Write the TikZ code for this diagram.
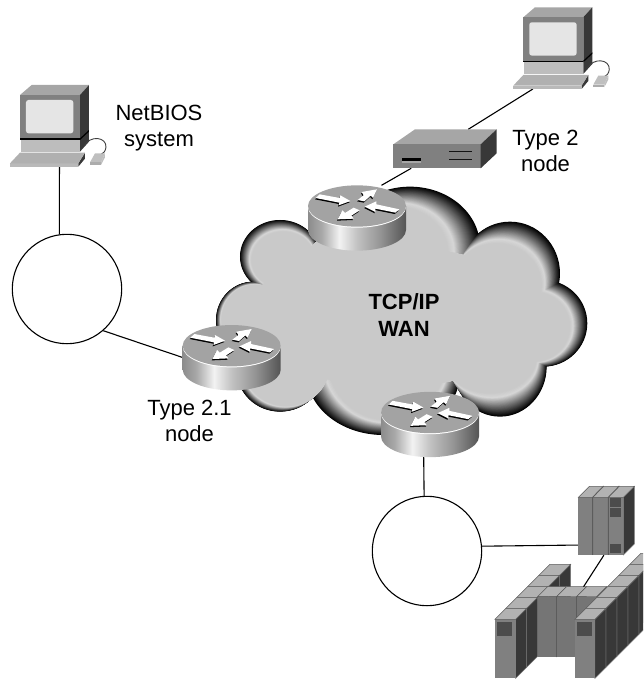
\documentclass[tikz,border=0pt]{standalone}
\usepackage{fontspec}
\setmainfont{Liberation Sans}
\pgfdeclarehorizontalshading{routerbody}{100bp}{rgb(0bp)=(.55,.55,.55);rgb(25bp)=(.55,.55,.55);rgb(32bp)=(.66,.66,.66);rgb(41bp)=(.95,.95,.95);rgb(50bp)=(.76,.76,.76);rgb(62bp)=(.58,.58,.58);rgb(75bp)=(.33,.33,.33);rgb(100bp)=(.33,.33,.33)}
\definecolor{unittop}{gray}{.70}
\definecolor{unitfront}{gray}{.50}
\definecolor{unitmid}{gray}{.46}
\definecolor{unitside}{gray}{.22}
\definecolor{unitpanel}{gray}{.30}
\definecolor{unitedge}{gray}{.36}
\definecolor{sideedge}{gray}{.46}
\tikzset{
  link/.style={draw=black,line width=1.1pt},
  ring/.style={circle,draw=black,line width=1.1pt,fill=white,minimum size=109.4pt,inner sep=0pt},
  hit/.style={rectangle,draw=none,inner sep=0pt,outer sep=0pt},
  lbl/.style={align=center,font=\fontsize{22}{26}\selectfont,inner sep=0pt},
  blbl/.style={align=center,font=\fontsize{22}{26.5}\selectfont\bfseries,inner sep=0pt},
}
\newcommand{\routerArrows}{%
  (-124,-24)--(-112,-35)--(-52,-24)--(-50,-32)--(-20,-15)--(-55,-2)--(-53,-10)--cycle
  (2,-18)--(20,-32)--(14,-42)--(60,-50)--(48,-24)--(41,-31)--(22,-14)--cycle
  (127,10)--(115,20)--(55,8)--(55,18)--(23,2)--(58,-14)--(58,-5)--cycle
  (-10,5)--(-36,21)--(-44,13)--(-58,40)--(-10,38)--(-17,29)--(8,13)--cycle}
\newcommand{\routerIcon}[2]{%
  \begin{scope}[shift={(#1,#2)},x=.3333pt,y=-.3333pt]
    \shade[shading=routerbody] (-147,0) -- (-147,72)
      .. controls (-147,106) and (-81,134) .. (0,134)
      .. controls (81,134) and (147,106) .. (147,72) -- (147,0) -- cycle;
    \fill[white] (0,3) ellipse [x radius=147,y radius=62];
    \fill[gray!72] (0,0) ellipse [x radius=147,y radius=62];
    \fill[black,shift={(-2,4)}] \routerArrows;
    \fill[white] \routerArrows;
  \end{scope}}
\newcommand{\pcIcon}[2]{%
  \begin{scope}[shift={(#1,#2)},x=.3333pt,y=-.3333pt]
    \fill[gray!70] (60,75)--(95,45)--(267,45)--(240,75)--cycle;
    \fill[unitside] (240,75)--(267,45)--(267,215)--(240,245)--cycle;
    \fill[unitfront] (60,75) rectangle (240,205);
    \fill[gray!20,rounded corners=2.5pt] (78,90) rectangle (220,190);
    \fill[black] (60,205) rectangle (240,210);
    \fill[gray!52] (63,210) rectangle (240,246);
    \fill[black] (240,205)--(267,180)--(267,185)--(240,210)--cycle;
    \fill[unitside] (235,290)--(255,266)--(255,248)--(235,280)--cycle;
    \fill[gray!55] (30,280) rectangle (235,290);
    \fill[gray!62] (30,280)--(60,248)--(255,248)--(235,280)--cycle;
    \draw[line width=.9pt,gray!50!black] (252,228) .. controls (270,195) and (320,200) .. (318,232) .. controls (316,245) and (310,250) .. (302,254);
    \fill[gray!50] (270,277)--(285,250)--(315,250)--(303,277)--cycle;
    \fill[gray!65] (270,277) rectangle (303,285);
    \fill[gray!50] (303,277)--(315,250)--(315,262)--(303,285)--cycle;
  \end{scope}}
\newcommand{\srvUnit}[6]{% x y w d h frontcolour
  \fill[unitside,draw=sideedge,line width=.5pt] (#1+#3,#2)--(#1+#3+#4,#2-#4)--(#1+#3+#4,#2-#4+#5)--(#1+#3,#2+#5)--cycle;
  \fill[#6] (#1,#2) rectangle (#1+#3,#2+#5);
  \fill[unittop,draw=unitedge,line width=.5pt] (#1,#2)--(#1+#4,#2-#4)--(#1+#3+#4,#2-#4)--(#1+#3,#2)--cycle;}
\newcommand{\cloudLobes}{690/230/210/180/650/250/155/140,
  990/310/150/155/950/345/135/125,
  1090/460/132/130/1060/470/110/105,
  960/590/140/150/930/560/140/110,
  610/610/230/185/620/560/180/190,
  300/600/130/125/320/590/128/118,
  220/450/112/115/225/450/100/105,
  300/260/120/110/310/270/95/85,
  480/300/110/110/480/300/110/110,
  640/440/440/210/640/440/440/210}
\begin{document}
\begin{tikzpicture}[x=1pt,y=-1pt]
\useasboundingbox (0,0) rectangle (643,679);
% cloud: stacked lobes, black rim to grey interior
\begin{scope}[shift={(180,170)},x=.3333pt,y=-.3333pt]
  \foreach \st in {0,...,34}{
    \pgfmathsetmacro{\tt}{\st/34}
    \pgfmathsetmacro{\gv}{\tt<.8 ? \tt/.8*.84 : .84-(\tt-.8)/.2*.05}
    \definecolor{stepgrey}{gray}{\gv}
    \foreach \ax/\ay/\arx/\ary/\bx/\by/\brx/\bry in \cloudLobes {
      \pgfmathsetmacro{\cx}{\ax+(\bx-\ax)*\tt}
      \pgfmathsetmacro{\cy}{\ay+(\by-\ay)*\tt}
      \pgfmathsetmacro{\rx}{\arx+(\brx-\arx)*\tt}
      \pgfmathsetmacro{\ry}{\ary+(\bry-\ary)*\tt}
      \fill[stepgrey] (\cx,\cy) ellipse [x radius=\rx,y radius=\ry];
    }
  }
\end{scope}
% named extents of the icons
\node[hit,minimum width=80pt,minimum height=82pt] (pcA) at (50,126) {};
\node[hit,minimum width=76pt,minimum height=82pt] (pcB) at (552,48) {};
\node[hit,minimum width=103.4pt,minimum height=39pt] (boxA) at (445,148.8) {};
\node[hit,minimum width=98pt,minimum height=65pt] (rA) at (357,217.8) {};
\node[hit,minimum width=98pt,minimum height=65pt] (rB) at (231.7,357.5) {};
\node[hit,minimum width=98pt,minimum height=65pt] (rC) at (430,424.3) {};
\node[hit,minimum width=56pt,minimum height=69pt] (srvA) at (606.3,520.7) {};
\node[hit,minimum width=59pt,minimum height=70.3pt] (grp) at (567.2,621.8) {};
\node[ring] (ringA) at (67,289) {};
\node[ring] (ringB) at (427,551) {};
% connectors
\draw[link] (pcA.-77.6) -- (ringA.98.4);
\draw[link] (ringA.-49) -- (rB.west);
\draw[link] (pcB.245) -- (boxA.40);
\draw[link] (boxA.210.5) -- (rA.53);
\draw[link] (rC.259.5) -- (ringB.93);
\draw[link] (ringB.5.6) -- (srvA.221.8);
% routers
\routerIcon{357}{206}
\routerIcon{231.7}{345.7}
\routerIcon{430}{412.5}
% workstations
\pcIcon{0}{70}
\pcIcon{503.3}{-7.7}
% type 2 box
\begin{scope}[shift={(290,0)},x=.3333pt,y=-.3333pt]
  \fill[gray!70] (310,433)--(375,388)--(620,388)--(572,433)--cycle;
  \fill[unitfront] (310,433) rectangle (572,505);
  \fill[unitside] (572,433)--(620,388)--(620,460)--(572,505)--cycle;
  \fill[black] (335,474) rectangle (393,484);
  \fill[gray!70] (335,484) rectangle (393,488);
  \fill[gray!15!black] (478,453) rectangle (545,456);
  \fill[gray!15!black] (478,478) rectangle (545,481);
\end{scope}
% upper server
\begin{scope}[shift={(360,420)},x=.3333pt,y=-.3333pt]
  \srvUnit{655}{232}{135}{33}{173}{unitfront}
  \draw[unitedge,line width=.9pt] (698,232)--(698,405) (745,232)--(745,405) (698,232)--(731,198) (745,232)--(778,198);
  \fill[unitpanel] (750,235) rectangle (783,260);
  \fill[unitpanel] (750,265) rectangle (783,290);
  \fill[unitpanel] (750,372) rectangle (783,400);
\end{scope}
% server group
\begin{scope}
\clip (0,0) rectangle (643,679);
\begin{scope}[shift={(470,500)},x=.3333pt,y=-.3333pt]
  \foreach \i in {4,3,2,1,0}{
    \srvUnit{75+33*\i}{358-33*\i}{62}{33}{177}{unitfront}
  }
  \srvUnit{203}{290}{57}{30}{180}{unitmid}
  \srvUnit{260}{290}{60}{30}{180}{unitmid}
  \srvUnit{320}{290}{60}{30}{180}{unitmid}
  \draw[unitedge,line width=.8pt] (260,290)--(260,470) (320,290)--(320,358);
  \foreach \i in {5,4,3,2,1,0}{
    \srvUnit{315+33*\i}{358-33*\i}{60}{33}{177}{unitfront}
  }
  \fill[unitpanel] (82,367) rectangle (127,407);
  \fill[unitpanel] (320,367) rectangle (365,407);
\end{scope}
\end{scope}
\draw[link] (srvA.266.7) -- (grp.65.6);
% labels
\node[lbl] (tNet) at (159,128) {NetBIOS\\system};
\node[lbl] (tTwo) at (545.5,151) {Type 2\\node};
\node[lbl] (tOne) at (189.5,420.5) {Type 2.1\\node};
\node[blbl] (tWan) at (404,315) {TCP/IP\\WAN};
\end{tikzpicture}
\end{document}
